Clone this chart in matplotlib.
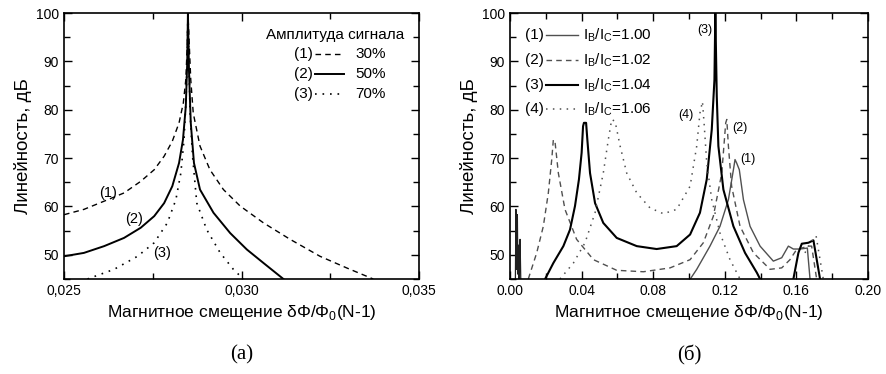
import numpy as np
import matplotlib.pyplot as plt
from matplotlib.ticker import MultipleLocator, FuncFormatter

plt.rcParams['font.family'] = ['Liberation Sans', 'DejaVu Sans']
plt.rcParams['font.size'] = 10
plt.rcParams['mathtext.fontset'] = 'custom'
plt.rcParams['mathtext.rm'] = 'Liberation Sans'

# --- panel (a): amplitude of signal ---
a1_x = [0.0250, 0.02556, 0.02613, 0.02669, 0.02716, 0.02754, 0.02782, 0.02805,
        0.02824, 0.02836, 0.02843, 0.02847, 0.02849, 0.02857, 0.02864, 0.02883,
        0.02911, 0.02949, 0.02996, 0.03062, 0.03137, 0.03221, 0.03296, 0.03371]
a1_y = [58.3, 59.4, 61.1, 62.8, 65.2, 67.6, 70.4, 73.5,
        77.3, 81.4, 86.2, 93.1, 100, 86.2, 79.3, 72.5,
        67.6, 63.5, 60.1, 56.6, 53.2, 49.7, 47.3, 45.0]

a2_x = [0.0250, 0.02556, 0.02613, 0.02669, 0.02716, 0.02754, 0.02782, 0.02805,
        0.02824, 0.02835, 0.02843, 0.02847, 0.02849, 0.02852, 0.02857, 0.02866,
        0.02883, 0.02921, 0.02968, 0.03015, 0.03062, 0.03118]
a2_y = [49.7, 50.4, 51.8, 53.5, 55.6, 58.0, 60.7, 64.2,
        69.0, 73.8, 80.7, 89.7, 100, 88.0, 77.3, 69.0,
        63.5, 58.7, 54.5, 51.1, 48.3, 45.0]

a3_x = [0.02566, 0.02641, 0.02707, 0.02754, 0.02791, 0.02815, 0.02829, 0.02838,
        0.02844, 0.02847, 0.02849, 0.02852, 0.02855, 0.02862, 0.02874, 0.02902,
        0.0294, 0.02977, 0.03005]
a3_y = [45.0, 47.0, 49.7, 52.5, 56.6, 61.4, 66.9, 73.8,
        82.8, 91.0, 100, 90.0, 79.3, 70.4, 60.7, 55.2,
        50.4, 47.0, 45.0]

a_legend = ['30%', '50%', '70%']

# --- panel (б): bias current ---
b1_x = [0.1007, 0.1043, 0.1117, 0.1173, 0.122, 0.1248, 0.1257, 0.1266, 0.1281,
        0.1304, 0.1341, 0.1397, 0.1471, 0.1518, 0.1555, 0.1583, 0.162, 0.1661,
        0.1676]
b1_y = [45.0, 47.0, 51.8, 55.9, 61.4, 67.6, 69.7, 69.0, 67.6,
        61.4, 55.9, 51.8, 48.7, 49.4, 51.8, 51.2, 51.2, 51.4,
        45.0]
b1s_x = [0.0030, 0.0033, 0.0035, 0.0038, 0.0041, 0.0044, 0.0047, 0.0050,
         0.0053, 0.0056, 0.0060]
b1s_y = [45.0, 59.4, 47.0, 55.0, 58.3, 46.0, 52.0, 45.0, 50.0, 53.2, 45.0]

b2_x = [0.0102, 0.0149, 0.0186, 0.0214, 0.0233, 0.0242, 0.0251, 0.027, 0.0307,
        0.0372, 0.0466, 0.0596, 0.0745, 0.0894, 0.1006, 0.108, 0.1136, 0.1183,
        0.1205, 0.1211, 0.122, 0.1238, 0.1285, 0.136, 0.1453, 0.1518, 0.1564,
        0.1601, 0.1667, 0.1685, 0.1713]
b2_y = [45.0, 50.4, 55.9, 62.8, 69.7, 73.8, 73.5, 66.9, 59.4,
        53.2, 49.0, 46.8, 46.5, 47.3, 49.0, 52.5, 58.0, 66.9,
        77.3, 78.0, 72.5, 64.2, 55.9, 50.4, 47.0, 47.3, 49.0,
        51.1, 51.8, 51.8, 45.0]

b3_x = [0.0196, 0.0242, 0.0298, 0.0335, 0.0363, 0.0385, 0.040, 0.0408, 0.0413,
        0.0425, 0.0432, 0.0447, 0.0475, 0.0521, 0.0596, 0.0708, 0.0819, 0.0931,
        0.1006, 0.1061, 0.1099, 0.1127, 0.1142, 0.1147, 0.1155, 0.1164, 0.1192,
        0.1248, 0.1313, 0.1379, 0.1397]
b3_y = [45.0, 48.3, 51.8, 55.2, 60.1, 65.6, 71.1, 76.6, 77.3,
        77.3, 73.8, 66.9, 60.7, 56.6, 53.5, 51.8, 51.2, 51.8,
        54.2, 58.7, 65.6, 75.9, 86.2, 100, 82.8, 72.5, 63.5,
        55.9, 50.4, 46.3, 45.0]
b3e_x = [0.1583, 0.1611, 0.163, 0.1667, 0.1695, 0.1732]
b3e_y = [45.0, 50.4, 52.3, 52.5, 53.0, 45.0]

b4_x = [0.0279, 0.0354, 0.0419, 0.0475, 0.0521, 0.0549, 0.0568, 0.0587, 0.0615,
        0.0652, 0.0708, 0.0782, 0.0857, 0.0931, 0.1006, 0.1043, 0.1061, 0.1075,
        0.1084, 0.1099, 0.1127, 0.1173, 0.1229, 0.1285]
b4_y = [45.0, 48.3, 52.5, 58.7, 66.9, 73.8, 78.0, 77.6, 72.5,
        66.9, 62.8, 59.7, 58.5, 59.4, 64.2, 72.5, 79.3, 81.7,
        77.3, 69.0, 61.4, 54.5, 49.0, 45.0]
b4e_x = [0.1648, 0.1676, 0.171, 0.175]
b4e_y = [50.4, 52.5, 53.9, 45.0]

b_legend = ['I$_\\mathrm{B}$/I$_\\mathrm{C}$=1.00', 'I$_\\mathrm{B}$/I$_\\mathrm{C}$=1.02',
            'I$_\\mathrm{B}$/I$_\\mathrm{C}$=1.04', 'I$_\\mathrm{B}$/I$_\\mathrm{C}$=1.06']

xlabel = 'Магнитное смещение δΦ/Φ$_0$(N-1)'
ylabel = 'Линейность, дБ'

fig = plt.figure(figsize=(8.87, 3.74), dpi=100)
axA = fig.add_axes([0.0722, 0.254, 0.4002, 0.711])
axB = fig.add_axes([0.575, 0.254, 0.4036, 0.711])

dash = (0, (4, 3))
dots = (0, (1, 3.5))
axA.plot(a1_x, a1_y, color='black', lw=1.0, linestyle=dash)
axA.plot(a2_x, a2_y, color='black', lw=1.4)
axA.plot(a3_x, a3_y, color='black', lw=1.2, linestyle=dots)
axA.set_xlim(0.025, 0.035)
axA.set_ylim(45, 100)
axA.xaxis.set_major_locator(MultipleLocator(0.005))
axA.xaxis.set_minor_locator(MultipleLocator(0.0025))
axA.xaxis.set_major_formatter(FuncFormatter(lambda v, p: f'{v:.3f}'.replace('.', ',')))
axA.text(0.02625, 62.8, '(1)', ha='center', va='center', fontsize=10.5)
axA.text(0.02697, 57.4, '(2)', ha='center', va='center', fontsize=10.5)
axA.text(0.02777, 50.4, '(3)', ha='center', va='center', fontsize=10.5)

# legend (a)
axA.text(0.765, 0.918, 'Амплитуда сигнала', transform=axA.transAxes, ha='center', va='center',
         fontsize=11)
for i, (ls, lw) in enumerate([(dash, 1.0), ('-', 1.4), (dots, 1.2)]):
    yy = [0.845, 0.771, 0.695][i]
    axA.text(0.700, yy, f'({i + 1})', transform=axA.transAxes, ha='right', va='center', fontsize=11)
    axA.plot([0.708, 0.79], [yy, yy], transform=axA.transAxes, color='black', lw=lw, linestyle=ls)
    axA.text(0.82, yy, a_legend[i], transform=axA.transAxes, ha='left', va='center', fontsize=11)

gray = '#505050'
axB.plot(b1_x, b1_y, color=gray, lw=1.0)
axB.plot(b1s_x, b1s_y, color='#202020', lw=0.9)
axB.plot(b2_x, b2_y, color=gray, lw=1.0, linestyle=dash)
axB.plot(b3_x, b3_y, color='black', lw=1.5)
axB.plot(b3e_x, b3e_y, color='black', lw=1.5)
axB.plot(b4_x, b4_y, color=gray, lw=1.1, linestyle=dots)
axB.plot(b4e_x, b4e_y, color=gray, lw=1.1, linestyle=dots)
axB.set_xlim(0, 0.20)
axB.set_ylim(45, 100)
axB.xaxis.set_major_locator(MultipleLocator(0.04))
axB.xaxis.set_minor_locator(MultipleLocator(0.02))
axB.xaxis.set_major_formatter(FuncFormatter(lambda v, p: f'{v:.2f}'))
axB.text(0.109, 96.4, '(3)', ha='center', va='center', fontsize=9)
axB.text(0.0985, 79.0, '(4)', ha='center', va='center', fontsize=9)
axB.text(0.1283, 76.2, '(2)', ha='center', va='center', fontsize=9)
axB.text(0.1330, 69.8, '(1)', ha='center', va='center', fontsize=9)

# legend (б)
styles = [(gray, '-', 1.0), (gray, dash, 1.0), ('black', '-', 1.5), (gray, dots, 1.1)]
for i, (c, ls, lw) in enumerate(styles):
    yy = [0.916, 0.823, 0.729, 0.638][i]
    axB.text(0.095, yy, f'({i + 1})', transform=axB.transAxes, ha='right', va='center', fontsize=11)
    axB.plot([0.10, 0.19], [yy, yy], transform=axB.transAxes, color=c, lw=lw, linestyle=ls)
    axB.text(0.205, yy, b_legend[i], transform=axB.transAxes, ha='left', va='center', fontsize=11)

for ax in (axA, axB):
    ax.yaxis.set_major_locator(MultipleLocator(10))
    ax.yaxis.set_minor_locator(MultipleLocator(5))
    ax.tick_params(which='both', direction='in', top=True, right=True, labelsize=10)
    ax.tick_params(which='major', length=6, width=1)
    ax.tick_params(which='minor', length=4, width=1)
    for s in ax.spines.values():
        s.set_linewidth(1.2)
    ax.set_xlabel(xlabel, fontsize=12.5, labelpad=4)
    ax.set_ylabel(ylabel, fontsize=13.5, labelpad=3)

fig.text(0.2723, 0.05, '(а)', ha='center', va='center', family='Liberation Serif', fontsize=15)
fig.text(0.777, 0.05, '(б)', ha='center', va='center', family='Liberation Serif', fontsize=15)

fig.savefig('out.png', dpi=100)
